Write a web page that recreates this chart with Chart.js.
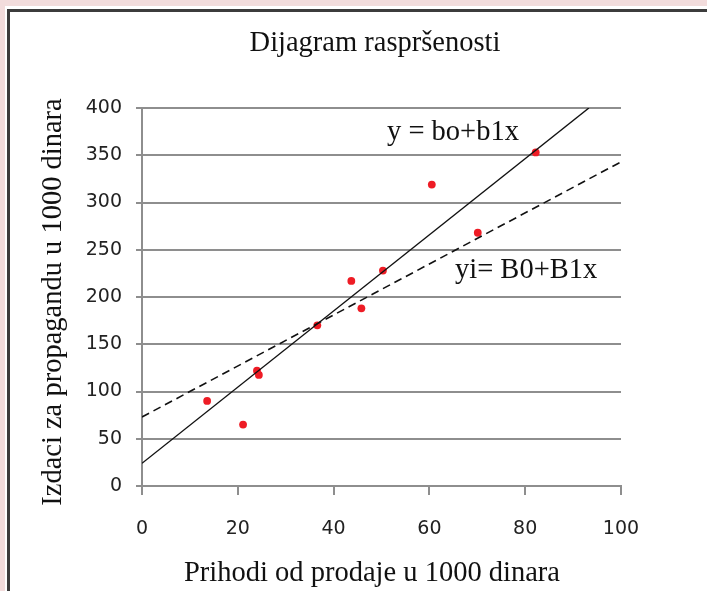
<!DOCTYPE html>
<html>
<head>
<meta charset="utf-8">
<script src="https://cdn.jsdelivr.net/npm/chart.js@4/dist/chart.umd.min.js"></script>
<style>
  html, body { margin: 0; padding: 0; width: 707px; height: 591px; overflow: hidden; background: #f2dcdc; }
  #paper { position: absolute; left: 5px; top: 6px; width: 720px; height: 600px; background: #fff; }
  #frame { position: absolute; left: 7px; top: 9px; width: 720px; height: 600px; border-left: 3px solid #3c3c3c; border-top: 3px solid #3c3c3c; }
  #chart { position: absolute; left: 0; top: 0; }
</style>
</head>
<body>
<div id="paper"></div>
<div id="frame"></div>
<canvas id="chart" width="707" height="591"></canvas>
<script>
// observed points: prihodi (x) vs izdaci (y), u 1000 dinara
const prihodi = [13.6, 21.1, 24.0, 24.4, 36.6, 43.7, 45.8, 50.3, 60.5, 70.1, 82.2];
const izdaci  = [90, 65, 122, 117.5, 170, 217, 188, 228, 319, 268, 353];

// the two fitted lines, as endpoints
const lineBX = [0, 93.3];   const lineBY = [24, 400];   // y = bo+b1x (solid)
const lineCX = [0, 100];    const lineCY = [73, 343];   // yi= B0+B1x (dashed)

const xTicks = [0, 20, 40, 60, 80, 100];
const yTicks = [0, 50, 100, 150, 200, 250, 300, 350, 400];

const SERIF = '"Liberation Serif", "Times New Roman", serif';
const SANS = '"DejaVu Sans", Verdana, sans-serif';
const GRID = '#8e8e8e';

const pts = (xs, ys) => xs.map((x, i) => ({ x, y: ys[i] }));

// titles and equation labels
const textPlugin = {
  id: 'texts',
  afterDraw(chart) {
    const ctx = chart.ctx;
    ctx.save();
    ctx.fillStyle = '#111';
    ctx.font = '28.5px ' + SERIF;
    ctx.textBaseline = 'middle';
    ctx.textAlign = 'center';
    ctx.fillText('Dijagram raspršenosti', 375, 44);
    ctx.fillText('Prihodi od prodaje u 1000 dinara', 372, 574);
    ctx.save();
    ctx.translate(54, 302);
    ctx.rotate(-Math.PI / 2);
    ctx.fillText('Izdaci za propagandu u 1000 dinara', 0, 0);
    ctx.restore();
    ctx.textAlign = 'left';
    ctx.fillText('y = bo+b1x', 387, 133);
    ctx.fillText('yi= B0+B1x', 455, 271);
    ctx.restore();
  }
};

new Chart(document.getElementById('chart'), {
  type: 'scatter',
  data: {
    datasets: [
      {
        label: 'bo+b1x',
        type: 'line',
        data: pts(lineBX, lineBY),
        borderColor: '#111',
        borderWidth: 1.4,
        pointRadius: 0,
        fill: false,
      },
      {
        label: 'B0+B1x',
        type: 'line',
        data: pts(lineCX, lineCY),
        borderColor: '#111',
        borderWidth: 1.6,
        borderDash: [8, 5],
        pointRadius: 0,
        fill: false,
      },
      {
        label: 'podaci',
        data: pts(prihodi, izdaci),
        backgroundColor: '#ee1c25',
        borderWidth: 0,
        pointRadius: 3.9,
      },
    ]
  },
  options: {
    responsive: false,
    animation: false,
    layout: { padding: { top: 108, left: 0, right: 86, bottom: 0 } },
    plugins: {
      legend: { display: false },
      tooltip: { enabled: false },
    },
    scales: {
      x: {
        type: 'linear', min: 0, max: 100,
        afterFit: (s) => { s.height = 105; },
        afterBuildTicks: (s) => { s.ticks = xTicks.map(v => ({ value: v })); },
        ticks: { font: { family: SANS, size: 19 }, color: '#222', padding: 23 },
        grid: { drawOnChartArea: false, drawTicks: true, tickLength: 9, color: GRID, lineWidth: 2 },
        border: { display: true, color: GRID, width: 2 },
      },
      y: {
        type: 'linear', min: 0, max: 400,
        afterFit: (s) => { s.width = 142; },
        afterBuildTicks: (s) => { s.ticks = yTicks.map(v => ({ value: v })); },
        ticks: { font: { family: SANS, size: 19 }, color: '#222', padding: 14 },
        grid: { color: GRID, lineWidth: 2, tickLength: 6 },
        border: { display: true, color: GRID, width: 2 },
      }
    }
  },
  plugins: [textPlugin]
});
</script>
</body>
</html>
